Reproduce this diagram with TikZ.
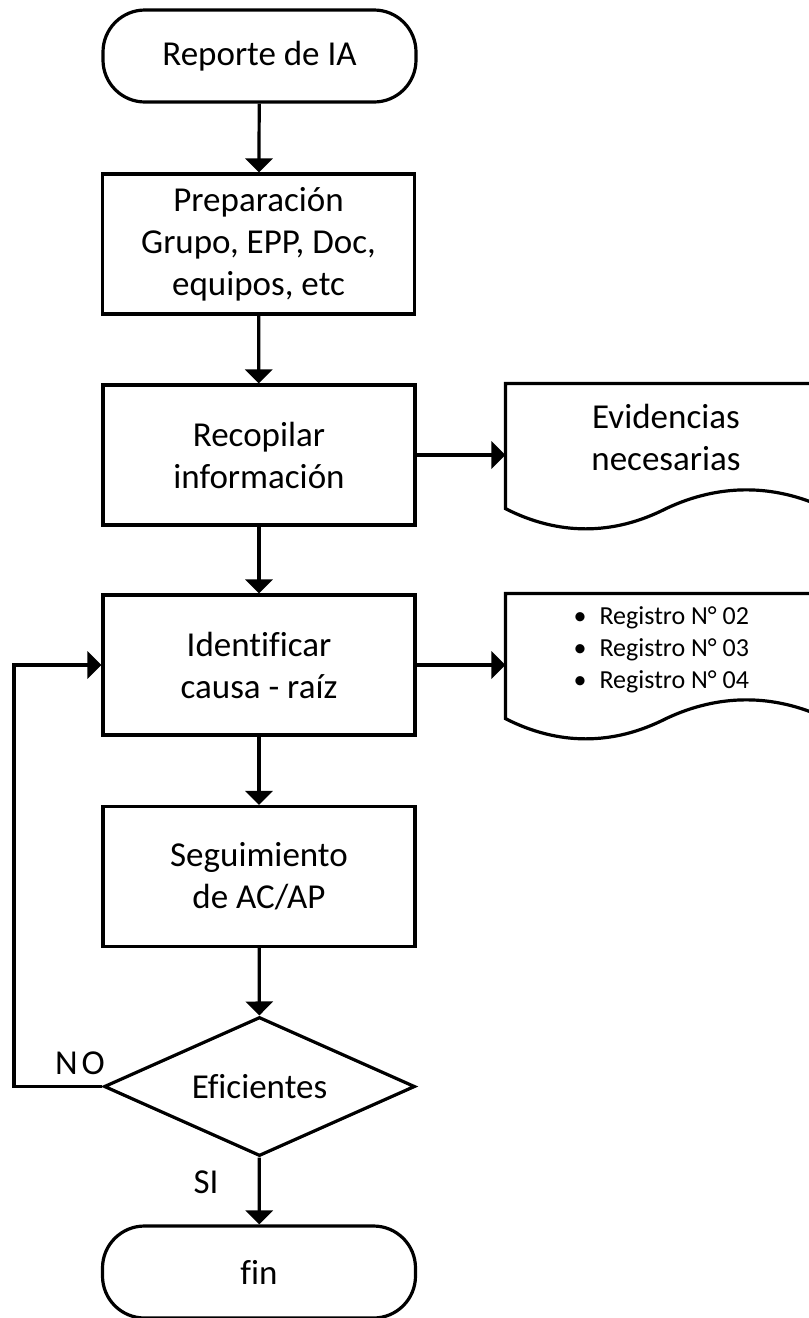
\documentclass[tikz,border=0pt]{standalone}
\usepackage{fontspec}
\setmainfont{Carlito}[Ligatures=NoCommon]
\usetikzlibrary{arrows.meta,shapes.geometric,calc}

% outline of a "document" symbol: straight top and sides, wavy bottom edge
\newcommand\drawdocshape[1]{%
  \draw (#1.south west) -- (#1.north west) -- (#1.north east) -- (#1.south east)
    .. controls +(-53,-25) and +(53,-25) .. (#1.south)
    .. controls +(-53,27) and +(53,27) .. (#1.south west) -- cycle;}

\begin{document}
\begin{tikzpicture}[x=1pt,y=-1pt,
  line width=3.2pt,
  every node/.style={font=\fontsize{35}{42}\selectfont, align=center, inner sep=0pt},
  term/.style={draw, rounded corners=42pt, minimum width=313pt, minimum height=92pt},
  proc/.style={draw, minimum width=312pt, minimum height=140pt},
  decision/.style={draw, diamond, shape aspect=2.24, minimum width=311pt, minimum height=139pt},
  docarea/.style={minimum width=318pt, minimum height=122pt},
  flow/.style={-{Triangle[width=27pt,length=14pt]}},
]
\useasboundingbox (0,0) rectangle (809,1318);
\clip (0,0) rectangle (809,1318);

% main column
\node[term]     (start) at (259.5,56)    {Reporte de IA};
\node[proc]     (prep)  at (258.5,244)   {Preparación\\Grupo, EPP, Doc,\\equipos, etc};
\node[proc]     (recop) at (259,455)     {Recopilar\\información};
\node[proc]     (ident) at (259,665)     {Identificar\\causa - raíz};
\node[proc]     (segui) at (259,876.5)   {Seguimiento\\de AC/AP};
\node[decision] (efic)  at (259.5,1086.5){Eficientes};
\node[term]     (fin)   at (259,1272)    {fin};

% documents on the right
\node[docarea] (doc1) at (666,446) {};
\drawdocshape{doc1}
\node (doc1t) at ($(doc1.center)+(0,-9)$) {Evidencias\\necesarias};

\node[docarea] (doc2) at (666,656) {};
\drawdocshape{doc2}
\node[anchor=west, align=left, font=\fontsize{26}{32}\selectfont] (doc2t) at (572,650)
  {\textbullet\hspace{13pt}Registro N° 02\\
   \textbullet\hspace{13pt}Registro N° 03\\
   \textbullet\hspace{13pt}Registro N° 04};

% connectors
\draw[flow] (start) -- (prep);
\draw[flow] (prep)  -- (recop);
\draw[flow] (recop) -- (ident);
\draw[flow] (ident) -- (segui);
\draw[flow] (segui) -- (efic);
\draw[flow] (efic)  -- (fin);
\draw[flow] (recop.east) -- (recop.east -| doc1.west);
\draw[flow] (ident.east) -- (ident.east -| doc2.west);

% feedback loop when the actions are not effective
\coordinate (loopx) at (14,0);
\draw[flow] (efic.west) -- (efic.west -| loopx) |- (ident.west);

% branch labels
\node (no) at (80,1063) {N\hspace{4pt}O};
\node (si) at (206,1182) {SI};
\end{tikzpicture}
\end{document}
